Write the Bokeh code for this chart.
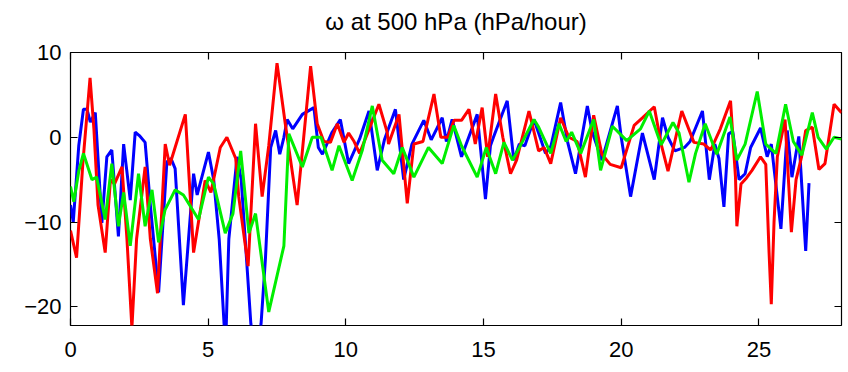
from bokeh.plotting import figure
from bokeh.models import LinearAxis, Range1d, FixedTicker
from bokeh.embed import file_html
from bokeh.resources import INLINE

title_text = "ω at 500 hPa (hPa/hour)"
x_ticks = [0, 5, 10, 15, 20, 25]
y_ticks = [-20, -10, 0, 10]

blue_x = [0.0, 0.1, 0.3, 0.47, 0.6, 0.72, 0.9, 1.14, 1.32, 1.5, 1.74, 1.93, 2.17, 2.35, 2.5, 2.71,
          2.9, 3.2, 3.5, 3.65, 3.8, 4.1, 4.47, 4.6, 5.01, 5.2, 5.4, 5.63, 5.75, 6.05, 6.2, 6.55,
          6.75, 6.92, 7.08, 7.27, 7.45, 7.6, 7.75, 7.87, 8.07, 8.42, 8.84, 9.0, 9.15, 9.5, 9.8,
          10.1, 10.5, 10.84, 11.14, 11.4, 11.8, 12.1, 12.4, 12.83, 13.1, 13.5, 13.65, 13.86, 14.2,
          14.77, 15.07, 15.25, 15.36, 15.86, 16.1, 16.3, 16.5, 16.83, 17.0, 17.25, 17.45, 17.8,
          18.05, 18.34, 18.77, 18.95, 19.3, 19.86, 20.0, 20.34, 20.77, 21.2, 21.5, 21.7, 21.95,
          22.3, 22.5, 22.95, 23.2, 23.4, 23.55, 23.73, 23.9, 24.05, 24.28, 24.5, 24.7, 25.06,
          25.3, 25.45, 25.8, 26.03, 26.2, 26.45, 26.7, 26.82]
blue_y = [-8, -10, -1, 3.3, 3.3, 1.8, 2.9, -10.1, -2.3, -1.5, -11.7, -0.8, -7.4, 0.6, 0.2, -0.6,
          -8, -18.3, -2.9, -2.5, -3.7, -19.8, -4.3, -6.8, -1.75, -5, -12, -25, -12, -2.3, -5, -22,
          -26, -22, -14.3, -1.2, 0.8, -2, 0, 2.1, 1.0, 2.7, 3.5, -1.2, -2.0, 0.6, 2.1,
          -3.1, -0.2, 3.1, -3.9, -0.3, 3.3, -5, -0.8, 2, -0.3, 2.3, -0.5, 2.1, -2.3,
          2.7, -7.3, -1, 0, 4.3, -2.7, -0.8, -1, 2.1, 0.5, -1.9, -1, 4.1,
          -0.5, -4.3, 3.7, 0.6, -2.7, 3.7, 0, -7, 0.5, -5, 2.3, 0, -1.6,
          -1.2, -0.5, 3.1, -5, -0.8, -2.5, -8.2, 0.4, 0.7, -5, -4.3, -1.2, 1.1,
          -2.3, -0.8, -10.8, 0.8, -4.7, 0.1, -13.4, -5.4]

red_x = [0.0, 0.22, 0.45, 0.71, 0.85, 1.0, 1.26, 1.45, 1.6, 1.87, 2.05, 2.23, 2.4, 2.71, 2.9,
         3.16, 3.44, 3.6, 4.17, 4.47, 4.89, 5.1, 5.44, 5.68, 6.0, 6.11, 6.45, 6.72, 6.96, 7.2,
         7.5, 7.8, 8.23, 8.72, 8.96, 9.2, 9.44, 9.69, 9.93, 10.1, 10.3, 10.5, 11.2, 11.5, 11.55,
         11.93, 12.23, 12.47, 12.8, 13.2, 13.45, 13.7, 13.93, 14.2, 14.47, 14.7, 14.95, 15.15,
         15.44, 15.7, 15.98, 16.2, 16.65, 17.0, 17.2, 17.44, 17.8, 18.1, 18.4, 18.7, 19.0, 19.3,
         19.6, 20.0, 20.47, 20.77, 21.2, 21.45, 21.7, 22.2, 22.64, 23.0, 23.25, 23.6, 23.97,
         24.15, 24.2, 24.35, 24.55, 24.75, 25.06, 25.25, 25.37, 25.45, 25.55, 25.67, 25.95,
         26.18, 26.35, 26.55, 26.7, 26.94, 27.18, 27.4, 27.73, 28.0]
red_y = [-11, -14.2, -3, 7.0, 1, -8, -13.6, -5, -5.5, -3.5, -12, -22.5, -12, -3.5, -12,
         -18.4, -0.8, -3.3, 2.7, -13.6, -5.1, -6.5, -1.2, 0, -2.5, -7, -15.2, 1.6, -7, -1,
         8.75, 1.6, -8, 8.4, 1.6, -0.5, -0.6, 1.6, -0.6, 0.5, -0.5, -1.9, 3.9, 0.6, -0.8,
         2.7, -7.8, -0.8, -0.5, 5.1, 0, 0, 2, 2, 3.3, -0.8, 3.5, -2.3,
         5.1, 0, -4.3, -2.7, 3.1, -1.6, -1.2, -3.1, 2.3, 0, -0.5, -4.7, 2.6, -2.0,
         -3.2, -3.6, 1.4, 2.3, 3.6, -0.8, -4, 3.1, -0.6, -0.8, -1.5, 1, 4.3,
         -4.7, -10.5, -5.5, -4.8, -3.9, -2.3, -3.2, -13.6, -19.7, -10, -2.3, 2.1,
         -11.2, -5, -2.3, 0.8, 1.2, -3.8, -3.1, 3.9, 2.9]

green_x = [0.0, 0.12, 0.3, 0.47, 0.78, 0.95, 1.26, 1.5, 1.74, 1.93, 2.17, 2.47, 2.71, 2.96,
           3.2, 3.43, 3.8, 4.1, 4.65, 5.01, 5.2, 5.62, 5.9, 6.18, 6.48, 6.72, 7.2, 7.75, 7.93,
           8.42, 8.78, 9.1, 9.5, 9.75, 10.23, 10.6, 10.96, 11.32, 11.74, 12.05, 12.47, 13.0,
           13.5, 13.92, 14.2, 14.77, 15.1, 15.44, 15.74, 16.05, 16.4, 16.83, 17.0, 17.44, 17.74,
           18.0, 18.2, 18.53, 19.0, 19.25, 19.68, 20.2, 20.7, 21.02, 21.45, 21.88, 22.1, 22.46,
           22.7, 23.05, 23.47, 23.95, 24.2, 24.5, 24.94, 25.25, 25.62, 25.97, 26.25, 26.56,
           26.94, 27.15, 27.45, 27.73, 28.0]
green_y = [-5.8, -7.6, -4, -1.9, -5, -4.7, -9.7, -3.1, -10.5, -6.5, -12.8, -4.3, -10.5, -6.2,
           -12.4, -8.6, -6.2, -6.8, -9.7, -4.7, -5.5, -11.3, -9, -1.6, -11.3, -9, -20.6, -12.8, 0.4,
           -3.5, 0, 0, -3.9, -1, -5.1, -1.5, 3.7, -2.7, -4.3, -1.2, -4.7, -1.2,
           -3.1, 1.4, -1.0, -4.7, -1.2, -4.3, -0.6, -2.7, -0.6, 2.1, 1.2, -1.9, 1.6,
           -0.5, 0.6, -1.9, 2.1, -3.9, 1.3, -0.4, 1, 3.1, -0.9, 1.75, 0.5, -5.3,
           -1.9, 1.6, -2.0, 2.4, -2.7, -0.8, 5.4, -0.8, -1.9, 3.9, -0.5, -2.1,
           2.9, 0, -1.4, 0, -0.2]

p = figure(width=848, height=372, output_backend="svg", toolbar_location=None,
           x_range=Range1d(0, 28), y_range=Range1d(-22.2, 10),
           min_border_left=70, min_border_right=7, min_border_top=51, min_border_bottom=47,
           background_fill_color="white", border_fill_color="white")

p.title.text = title_text
p.title.text_font = "Liberation Sans"
p.title.text_font_size = "24px"
p.title.text_font_style = "normal"
p.title.align = "center"
p.title.text_color = "black"

p.grid.visible = False
p.outline_line_color = "black"
p.outline_line_width = 1.2

for ax in (p.xaxis[0], p.yaxis[0]):
    ax.axis_line_color = None
    ax.major_tick_in = 7
    ax.major_tick_out = 0
    ax.minor_tick_line_color = None
    ax.major_tick_line_color = "black"
    ax.major_tick_line_width = 1.2
    ax.major_label_text_font = "Liberation Sans"
    ax.major_label_text_font_size = "22px"
    ax.major_label_text_color = "black"
p.xaxis[0].ticker = FixedTicker(ticks=x_ticks)
p.yaxis[0].ticker = FixedTicker(ticks=y_ticks)
p.xaxis[0].major_label_standoff = 16
p.yaxis[0].major_label_standoff = 9

top_ax = LinearAxis(ticker=FixedTicker(ticks=x_ticks), major_tick_in=7, major_tick_out=0,
                    major_label_text_color=None, major_label_standoff=0,
                    axis_line_color=None, minor_tick_line_color=None, major_tick_line_width=1.2)
right_ax = LinearAxis(ticker=FixedTicker(ticks=y_ticks), major_tick_in=7, major_tick_out=0,
                      major_label_text_color=None, major_label_standoff=0,
                      axis_line_color=None, minor_tick_line_color=None, major_tick_line_width=1.2)
# invisible spacer axis: lifts the title away from the frame
spacer_ax = LinearAxis(ticker=FixedTicker(ticks=x_ticks), major_tick_in=0, major_tick_out=13,
                       major_tick_line_color=None, major_label_text_color=None,
                       major_label_standoff=0, axis_line_color=None, minor_tick_line_color=None)
p.add_layout(top_ax, "above")
p.add_layout(spacer_ax, "above")
p.add_layout(right_ax, "right")

p.line(blue_x, blue_y, line_color="#0000FF", line_width=3)
p.line(red_x, red_y, line_color="#FF0000", line_width=3)
p.line(green_x, green_y, line_color="#00EE00", line_width=3)

open("out.html", "w").write(file_html(p, INLINE))
